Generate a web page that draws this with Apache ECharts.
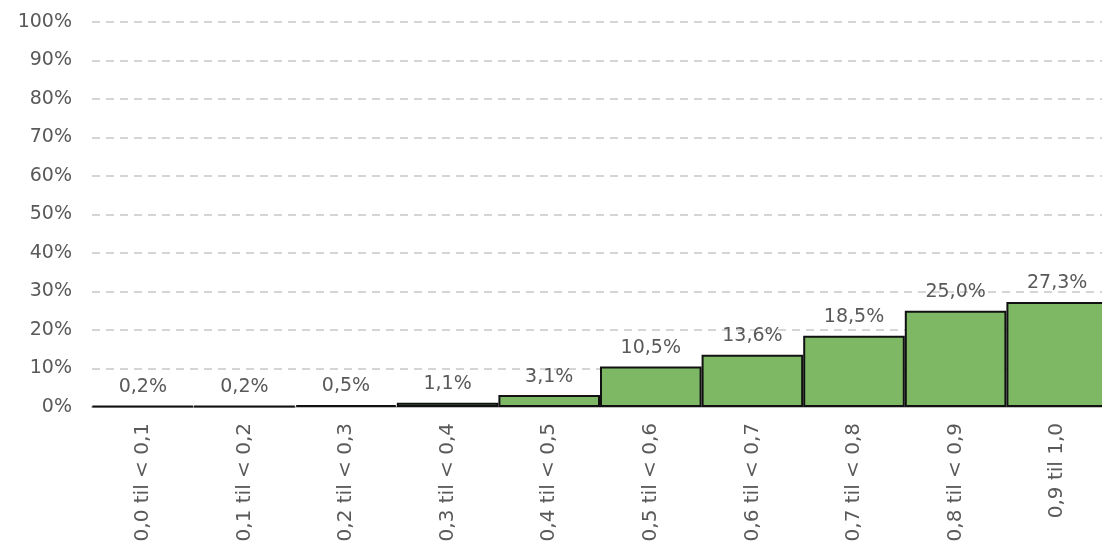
<!DOCTYPE html>
<html>
<head>
<meta charset="utf-8">
<script src="https://cdn.jsdelivr.net/npm/echarts@6/dist/echarts.min.js"></script>
<style>
  html, body { margin: 0; padding: 0; background: #fff; }
  #main { width: 1102px; height: 551px; }
</style>
</head>
<body>
<div id="main"></div>
<script>
// intervaller og andel (%)
var categories = ['0,0 til < 0,1', '0,1 til < 0,2', '0,2 til < 0,3', '0,3 til < 0,4', '0,4 til < 0,5',
  '0,5 til < 0,6', '0,6 til < 0,7', '0,7 til < 0,8', '0,8 til < 0,9', '0,9 til 1,0'];
var shares = [0.2, 0.2, 0.5, 1.1, 3.1, 10.5, 13.6, 18.5, 25.0, 27.3];

var chart = echarts.init(document.getElementById('main'), null, { renderer: 'canvas' });
var textColor = '#595959';
var font = 'DejaVu Sans';

var option = {
  animation: false,
  grid: {
    left: 92,
    top: 22,
    width: 1016,
    height: 385,
    containLabel: false,
    outerBoundsMode: 'none'
  },
  xAxis: {
    type: 'category',
    data: categories,
    axisLine: { lineStyle: { color: '#bfbfbf', width: 2 } },
    axisTick: { show: false },
    axisLabel: {
      rotate: 90,
      interval: 0,
      margin: 16,
      color: textColor,
      fontFamily: font,
      fontSize: 20
    }
  },
  yAxis: {
    type: 'value',
    min: 0,
    max: 100,
    interval: 10,
    axisLine: { show: false },
    axisTick: { show: false },
    axisLabel: {
      formatter: '{value}%',
      margin: 20,
      color: textColor,
      fontFamily: font,
      fontSize: 19
    },
    splitLine: {
      lineStyle: { color: '#c8c8c8', type: [8, 6], width: 1.5 }
    }
  },
  series: [{
    type: 'bar',
    data: shares,
    barWidth: '100%',
    barCategoryGap: 0,
    itemStyle: {
      color: '#7eb864',
      borderColor: '#111',
      borderWidth: 2
    },
    label: {
      show: true,
      position: 'top',
      distance: 9,
      color: textColor,
      fontFamily: font,
      fontSize: 19,
      formatter: function (p) {
        return p.value.toFixed(1).replace('.', ',') + '%';
      }
    }
  }]
};
chart.setOption(option);
</script>
</body>
</html>
